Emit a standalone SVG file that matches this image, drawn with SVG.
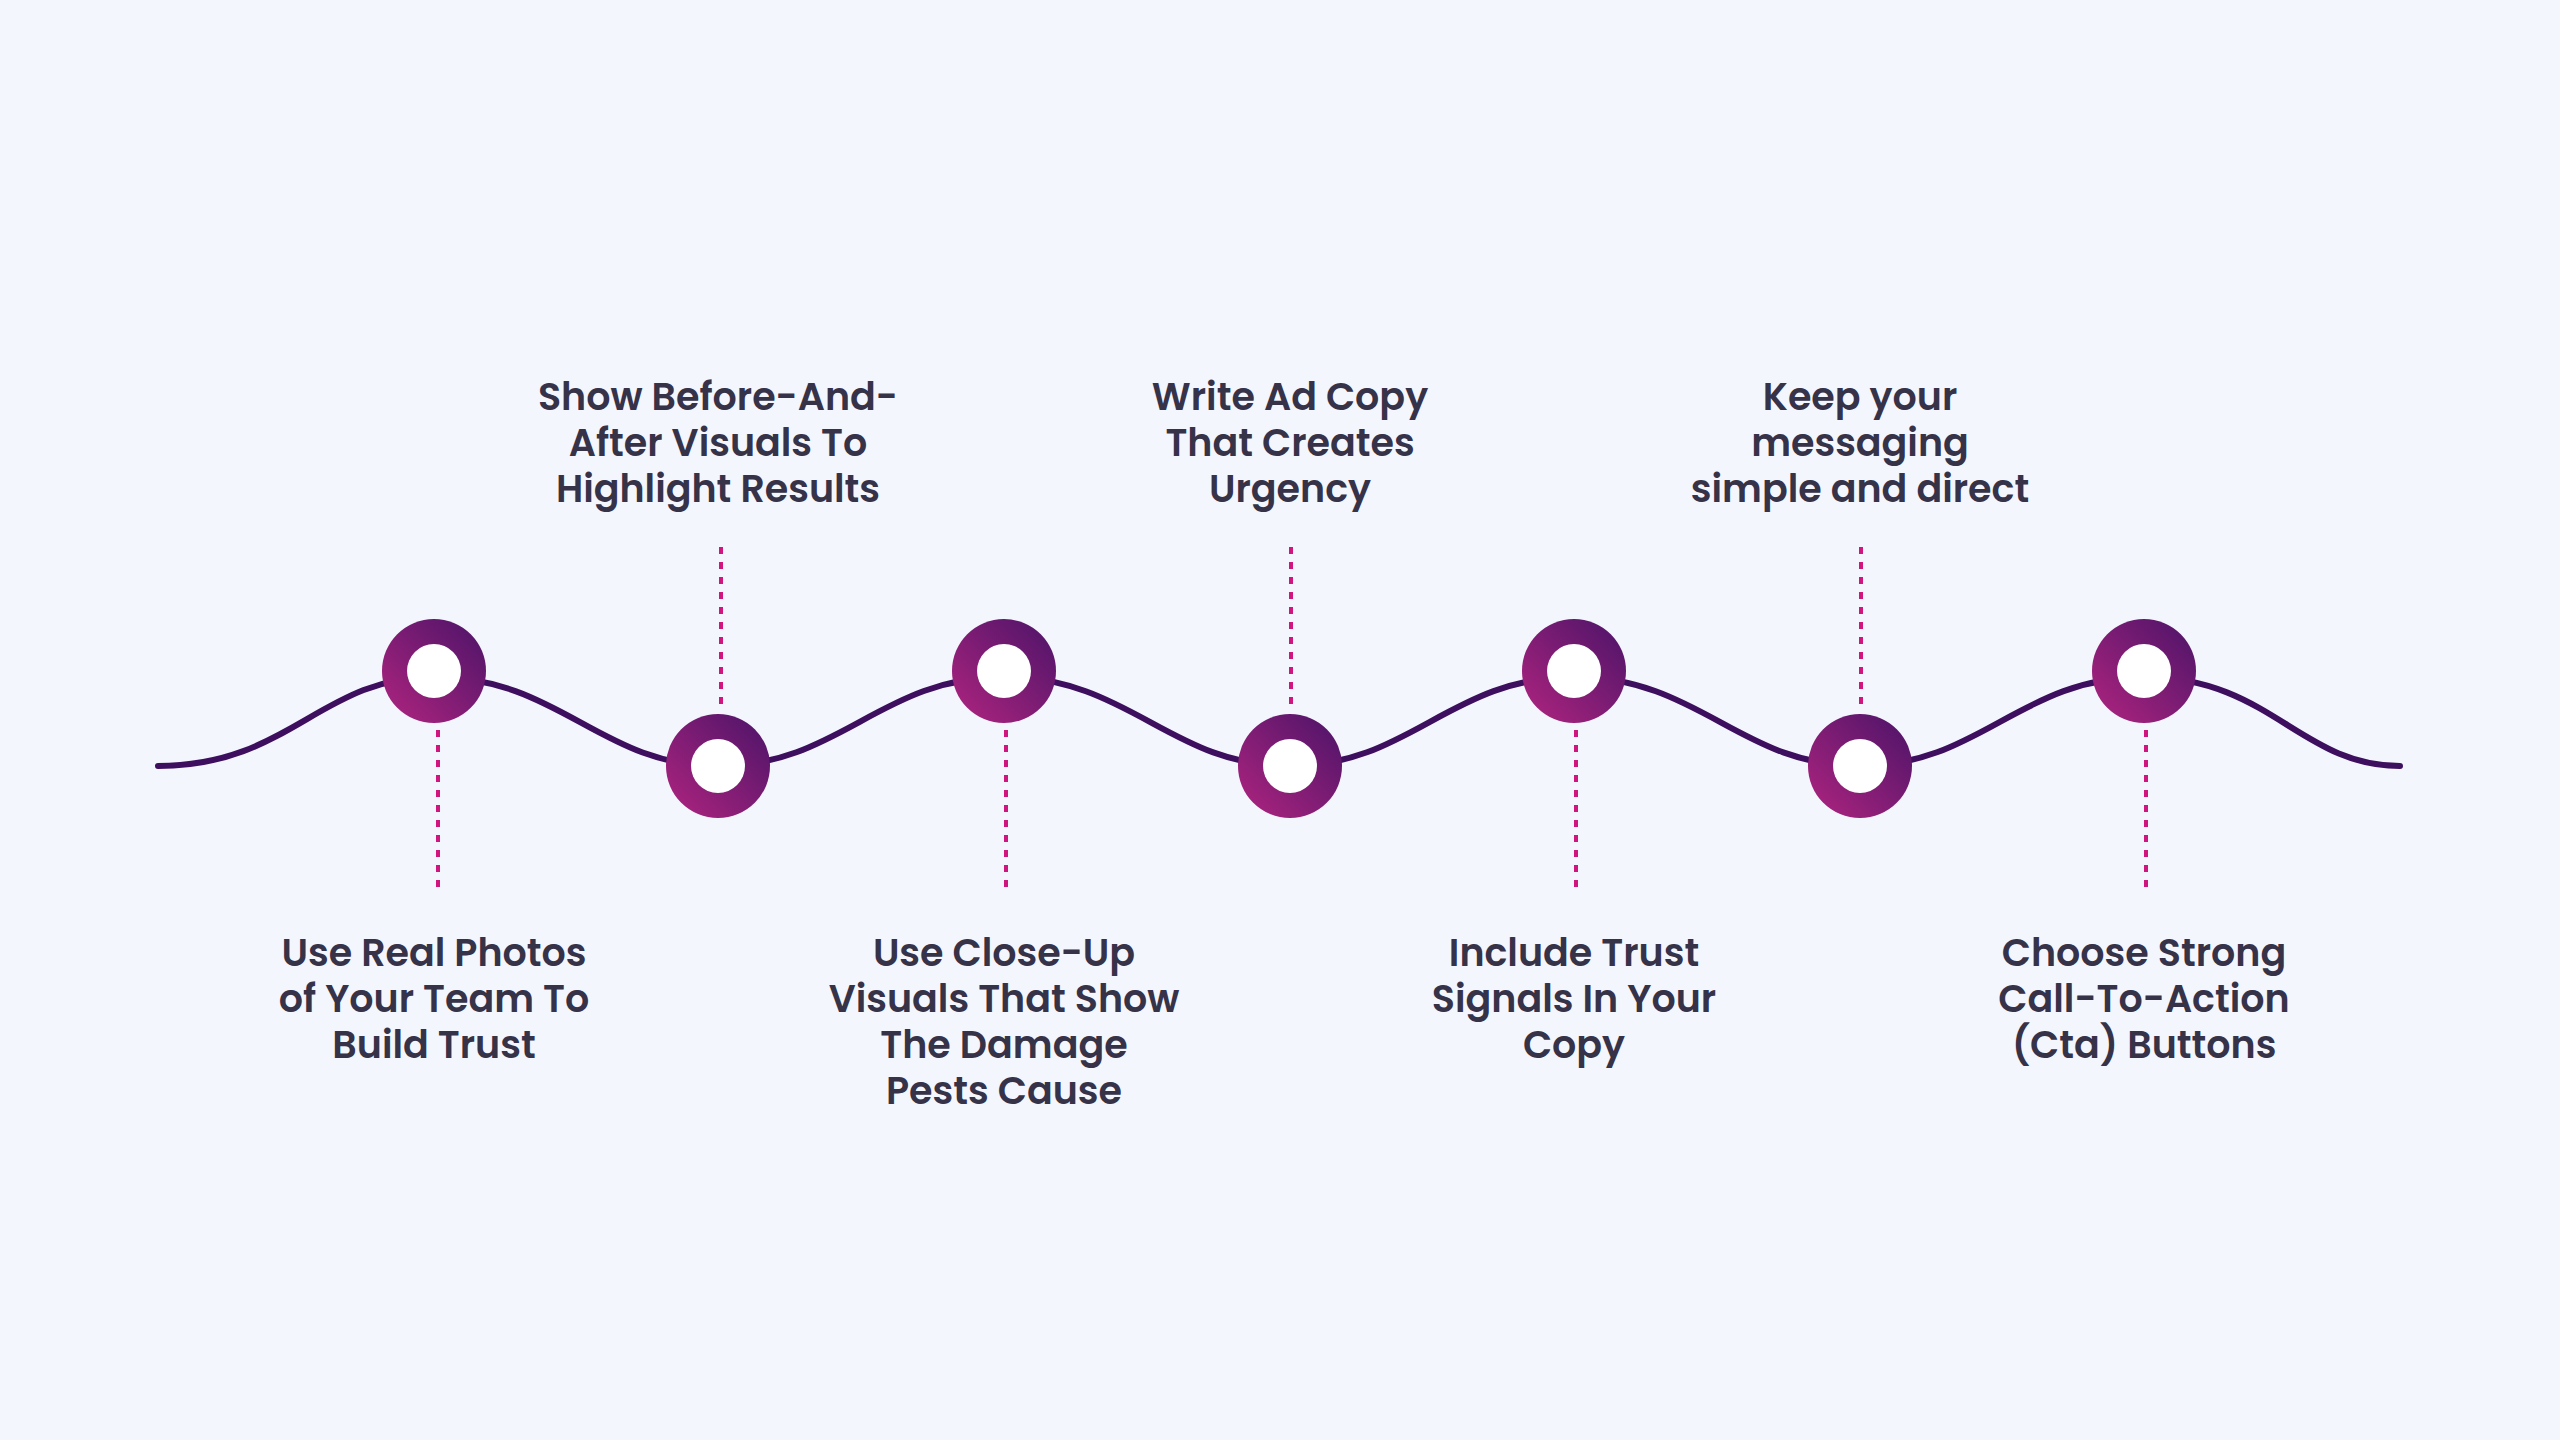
<svg xmlns="http://www.w3.org/2000/svg" width="2560" height="1440" viewBox="0 0 2560 1440">
<defs>
<linearGradient id="g" x1="0" y1="1" x2="1" y2="0">
<stop offset="0" stop-color="#b0247f"/><stop offset="1" stop-color="#4a1468"/>
</linearGradient>
<style>
.t{font-family:Poppins,"Inter","Liberation Sans",sans-serif;font-weight:600;font-size:38px;fill:#363349;text-anchor:middle}
.d{stroke:#d0167e;stroke-width:4;stroke-dasharray:7 8;fill:none}
.w{stroke:#3d0f5e;stroke-width:6;fill:none;stroke-linecap:round}
</style>
</defs>
<rect width="2560" height="1440" fill="#f4f6fe"/>
<g id="connectors">
<path class="w" d="M158,766 C290,766 320,677 434,677 C560,677 600,766 718,766 C840,766 880,677 1004,677 C1130,677 1170,766 1290,766 C1410,766 1450,677 1574,677 C1700,677 1740,766 1860,766 C1980,766 2020,677 2144,677 C2270,677 2300,766 2400,766"/>
<path class="d" d="M438,730V895M1006,730V895M1576,730V895M2146,730V895M721,547V710M1291,547V710M1861,547V710"/>
</g>
<g id="n1"><circle cx="434" cy="671" r="52" fill="url(#g)"/><circle cx="434" cy="671" r="27" fill="#fff"/>
<text class="t" x="434"><tspan x="434" y="966">Use Real Photos</tspan><tspan x="434" y="1012">of Your Team To</tspan><tspan x="434" y="1058">Build Trust</tspan></text></g>
<g id="n2"><circle cx="718" cy="766" r="52" fill="url(#g)"/><circle cx="718" cy="766" r="27" fill="#fff"/>
<text class="t"><tspan x="718" y="410">Show Before-And-</tspan><tspan x="718" y="456">After Visuals To</tspan><tspan x="718" y="502">Highlight Results</tspan></text></g>
<g id="n3"><circle cx="1004" cy="671" r="52" fill="url(#g)"/><circle cx="1004" cy="671" r="27" fill="#fff"/>
<text class="t"><tspan x="1004" y="966">Use Close-Up</tspan><tspan x="1004" y="1012">Visuals That Show</tspan><tspan x="1004" y="1058">The Damage</tspan><tspan x="1004" y="1104">Pests Cause</tspan></text></g>
<g id="n4"><circle cx="1290" cy="766" r="52" fill="url(#g)"/><circle cx="1290" cy="766" r="27" fill="#fff"/>
<text class="t"><tspan x="1290" y="410">Write Ad Copy</tspan><tspan x="1290" y="456">That Creates</tspan><tspan x="1290" y="502">Urgency</tspan></text></g>
<g id="n5"><circle cx="1574" cy="671" r="52" fill="url(#g)"/><circle cx="1574" cy="671" r="27" fill="#fff"/>
<text class="t"><tspan x="1574" y="966">Include Trust</tspan><tspan x="1574" y="1012">Signals In Your</tspan><tspan x="1574" y="1058">Copy</tspan></text></g>
<g id="n6"><circle cx="1860" cy="766" r="52" fill="url(#g)"/><circle cx="1860" cy="766" r="27" fill="#fff"/>
<text class="t"><tspan x="1860" y="410">Keep your</tspan><tspan x="1860" y="456">messaging</tspan><tspan x="1860" y="502">simple and direct</tspan></text></g>
<g id="n7"><circle cx="2144" cy="671" r="52" fill="url(#g)"/><circle cx="2144" cy="671" r="27" fill="#fff"/>
<text class="t"><tspan x="2144" y="966">Choose Strong</tspan><tspan x="2144" y="1012">Call-To-Action</tspan><tspan x="2144" y="1058">(Cta) Buttons</tspan></text></g>
</svg>
